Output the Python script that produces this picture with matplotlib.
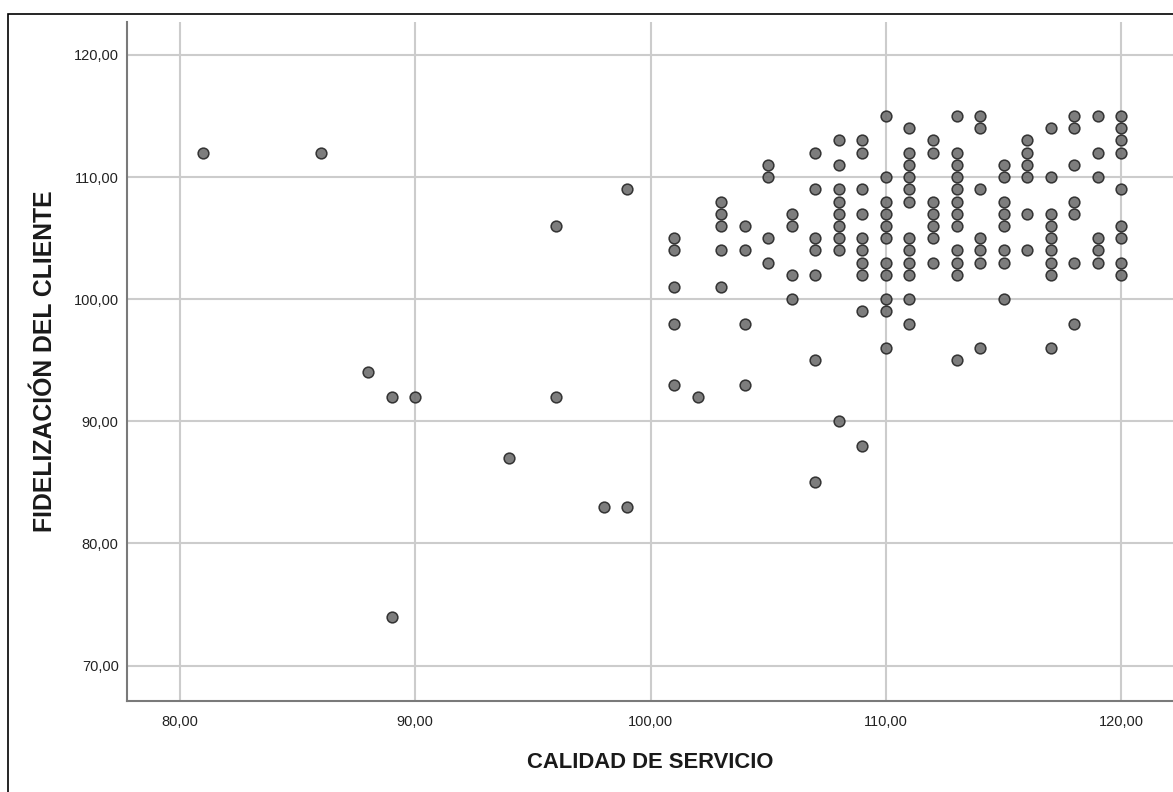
import matplotlib.pyplot as plt
from matplotlib.patches import Rectangle
from matplotlib.ticker import FuncFormatter

# datos ---------------------------------------------------------#
# calidad de servicio (x) y los valores de fidelizacion (y) en cada x
calidad = [81, 86, 88, 89, 90, 94, 96, 98, 99, 101, 102, 103, 104, 105,
           106, 107, 108, 109, 110, 111, 112, 113, 114, 115, 116, 117,
           118, 119, 120]
fidelizacion = [
    [112],
    [112],
    [94],
    [92, 74],
    [92],
    [87],
    [106, 92],
    [83],
    [109, 83],
    [105, 104, 101, 98, 93],
    [92],
    [108, 107, 106, 104, 101],
    [106, 104, 98, 93],
    [111, 110, 105, 103],
    [107, 106, 102, 100],
    [112, 109, 105, 104, 102, 95, 85],
    [113, 111, 109, 108, 107, 106, 105, 104, 90],
    [113, 112, 109, 107, 105, 104, 103, 102, 99, 88],
    [115, 110, 108, 107, 106, 105, 103, 102, 100, 99, 96],
    [114, 112, 111, 110, 109, 108, 105, 104, 103, 102, 100, 98],
    [113, 112, 108, 107, 106, 105, 103],
    [115, 112, 111, 110, 109, 108, 107, 106, 104, 103, 102, 95],
    [115, 114, 109, 105, 104, 103, 96],
    [111, 110, 108, 107, 106, 104, 103, 100],
    [113, 112, 111, 110, 107, 104],
    [114, 110, 107, 106, 105, 104, 103, 102, 96],
    [115, 114, 111, 108, 107, 103, 98],
    [115, 112, 110, 105, 104, 103],
    [115, 114, 113, 112, 109, 106, 105, 103, 102],
]
xticks = [80, 90, 100, 110, 120]
yticks = [70, 80, 90, 100, 110, 120]

xs, ys = [], []
for c, vals in zip(calidad, fidelizacion):
    for v in vals:
        xs.append(c)
        ys.append(v)

# figura --------------------------------------------------------#
plt.rcParams['font.family'] = ['Liberation Sans', 'DejaVu Sans']
fig = plt.figure(figsize=(11.73, 7.92), dpi=100)
ax = fig.add_axes([127/1173, 1 - 701/792, (1173-127)/1173, (701-22)/792])

ax.scatter(xs, ys, s=60, facecolor='#6f6f6f', edgecolor='#262626',
           linewidth=1.1, alpha=0.9, zorder=3)

ax.set_xlim(77.75, 122.2)
ax.set_ylim(67.1, 122.7)
ax.set_xticks(xticks)
ax.set_yticks(yticks)
fmt = FuncFormatter(lambda v, p: f'{v:.2f}'.replace('.', ','))
ax.xaxis.set_major_formatter(fmt)
ax.yaxis.set_major_formatter(fmt)
ax.tick_params(length=0, labelsize=10.5, colors='#222222')
ax.tick_params(axis='y', pad=6)
ax.tick_params(axis='x', pad=10)
ax.grid(True, color='#cccccc', linewidth=1.5, zorder=0)
ax.set_axisbelow(True)

for s in ['top', 'right']:
    ax.spines[s].set_visible(False)
for s in ['left', 'bottom']:
    ax.spines[s].set_color('#7a7a7a')
    ax.spines[s].set_linewidth(1.5)

ax.set_xlabel('CALIDAD DE SERVICIO', fontsize=15.8, fontweight='bold',
              color='#1a1a1a', labelpad=17)
ax.set_ylabel('FIDELIZACIÓN DEL CLIENTE', fontsize=17.8, fontweight='bold',
              color='#1a1a1a', labelpad=12)

# marco exterior
fig.patches.append(Rectangle((8/1173, -0.05), 1.1, 1 - 14/792 + 0.05,
                             transform=fig.transFigure, fill=False,
                             edgecolor='black', linewidth=1.2))

fig.savefig('out.png', dpi=100)
